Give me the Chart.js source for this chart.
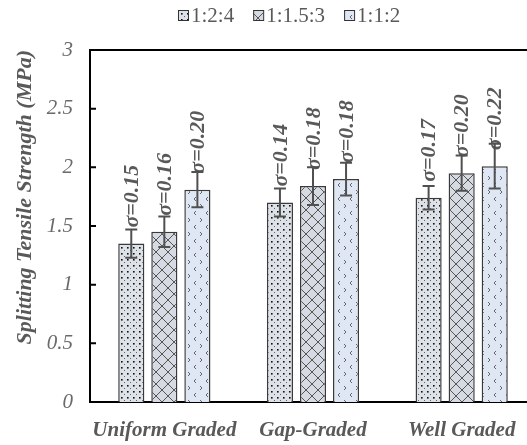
<!DOCTYPE html>
<html>
<head>
<meta charset="utf-8">
<script src="https://cdn.jsdelivr.net/npm/chart.js@4/dist/chart.umd.min.js"></script>
<style>
  html, body { margin: 0; padding: 0; background: #fff; overflow: hidden; }
  #wrap { position: relative; width: 546px; height: 445px; }
</style>
</head>
<body>
<div id="wrap"><canvas id="grafico"></canvas></div>
<script>
// dados
const grupos = ['Uniform Graded', 'Gap-Graded', 'Well Graded'];
const tracos = ['1:2:4', '1:1.5:3', '1:1:2'];
const resistencia124 = [1.35, 1.70, 1.74];
const resistencia1153 = [1.45, 1.84, 1.95];
const resistencia112 = [1.81, 1.90, 2.01];
const erro124 = [0.12, 0.12, 0.10];
const erro1153 = [0.13, 0.16, 0.15];
const erro112 = [0.15, 0.14, 0.19];
const sigma124 = ['0.15', '0.14', '0.17'];
const sigma1153 = ['0.16', '0.18', '0.20'];
const sigma112 = ['0.20', '0.18', '0.22'];
const ticksY = [0, 0.5, 1, 1.5, 2, 2.5, 3];

const FONTE = "'Liberation Serif', 'Times New Roman', serif";
const CINZA = '#595959';

// padrões de preenchimento
function padraoPontos() {
  const c = document.createElement('canvas');
  c.width = 6; c.height = 6;
  const g = c.getContext('2d');
  g.fillStyle = '#dde1e8';
  g.fillRect(0, 0, 6, 6);
  g.fillStyle = '#111';
  g.fillRect(1, 1, 1.6, 1.6);
  g.fillStyle = '#666';
  g.fillRect(4, 4, 1, 1);
  return g.createPattern(c, 'repeat');
}
function padraoLosango() {
  const c = document.createElement('canvas');
  c.width = 12; c.height = 12;
  const g = c.getContext('2d');
  g.fillStyle = '#d6dbe3';
  g.fillRect(0, 0, 12, 12);
  g.strokeStyle = '#555';
  g.lineWidth = 1;
  g.beginPath();
  g.moveTo(0, 0); g.lineTo(12, 12);
  g.moveTo(12, 0); g.lineTo(0, 12);
  g.stroke();
  return g.createPattern(c, 'repeat');
}
function padraoChevron() {
  const c = document.createElement('canvas');
  c.width = 12; c.height = 14;
  const g = c.getContext('2d');
  g.fillStyle = '#dfe7f5';
  g.fillRect(0, 0, 12, 14);
  g.strokeStyle = '#666';
  g.lineWidth = 1;
  g.beginPath();
  g.moveTo(4, 1); g.lineTo(2, 3); g.lineTo(4, 5);
  g.moveTo(8, 8); g.lineTo(10, 10); g.lineTo(8, 12);
  g.stroke();
  return g.createPattern(c, 'repeat');
}

const padroes = [padraoPontos(), padraoLosango(), padraoChevron()];
const valores = [resistencia124, resistencia1153, resistencia112];
const erros = [erro124, erro1153, erro112];
const sigmas = [sigma124, sigma1153, sigma112];

// barras de erro, rótulos σ, moldura e legenda
const extras = {
  id: 'extras',
  afterDatasetsDraw(chart) {
    const ctx = chart.ctx;
    const y = chart.scales.y;
    const area = chart.chartArea;
    ctx.save();
    chart.data.datasets.forEach((ds, i) => {
      const meta = chart.getDatasetMeta(i);
      meta.data.forEach((bar, j) => {
        // rótulo σ
        ctx.save();
        ctx.translate(bar.x, bar.y - 16);
        ctx.rotate(-Math.PI / 2);
        ctx.font = 'italic bold 22px ' + FONTE;
        ctx.fillStyle = CINZA;
        ctx.textAlign = 'left';
        ctx.textBaseline = 'middle';
        ctx.fillText('σ=' + sigmas[i][j], 0, 1);
        ctx.restore();
        // barra de erro
        const v = ds.data[j];
        const e = erros[i][j];
        const yt = y.getPixelForValue(v + e);
        const yb = y.getPixelForValue(v - e);
        ctx.strokeStyle = '#505050';
        ctx.lineWidth = 2;
        ctx.beginPath();
        ctx.moveTo(bar.x, yt); ctx.lineTo(bar.x, yb);
        ctx.moveTo(bar.x - 6, yt); ctx.lineTo(bar.x + 6, yt);
        ctx.moveTo(bar.x - 6, yb); ctx.lineTo(bar.x + 6, yb);
        ctx.stroke();
      });
    });
    // moldura superior e ticks internos
    ctx.strokeStyle = '#000';
    ctx.lineWidth = 2;
    ctx.beginPath();
    ctx.moveTo(area.left - 1, area.top);
    ctx.lineTo(area.right, area.top);
    ctx.moveTo(area.right, area.top);
    ctx.lineTo(area.right, area.bottom);
    ticksY.forEach(t => {
      const py = y.getPixelForValue(t);
      ctx.moveTo(area.left, py);
      ctx.lineTo(area.left + 6, py);
    });
    ctx.stroke();
    // legenda
    ctx.font = '21px ' + FONTE;
    ctx.textBaseline = 'middle';
    ctx.textAlign = 'left';
    let x = 178;
    const ly = 15;
    tracos.forEach((t, i) => {
      ctx.fillStyle = padroes[i];
      ctx.fillRect(x, ly - 5, 10, 10);
      ctx.strokeStyle = '#333';
      ctx.lineWidth = 1;
      ctx.strokeRect(x + 0.5, ly - 4.5, 10, 10);
      ctx.fillStyle = CINZA;
      ctx.fillText(t, x + 13, ly + 1);
      x += 13 + ctx.measureText(t).width + 19;
    });
    ctx.restore();
  }
};

new Chart(document.getElementById('grafico').getContext('2d'), {
  type: 'bar',
  data: {
    labels: grupos,
    datasets: tracos.map((t, i) => ({
      label: t,
      data: valores[i],
      backgroundColor: padroes[i],
      borderColor: '#3a3a3a',
      borderWidth: 1.5,
      barPercentage: 0.79,
      categoryPercentage: 0.667
    }))
  },
  options: {
    responsive: true,
    maintainAspectRatio: false,
    animation: false,
    layout: { padding: { top: 50, right: 10, left: 0, bottom: 2 } },
    plugins: {
      legend: { display: false },
      tooltip: { enabled: false }
    },
    scales: {
      x: {
        afterFit(scale) { scale.height = 41; },
        grid: { display: false, drawTicks: false },
        border: { display: true, color: '#000', width: 2 },
        ticks: {
          font: { family: FONTE, size: 21, style: 'italic', weight: 'bold' },
          color: CINZA,
          padding: 16,
          autoSkip: false,
          maxRotation: 0
        }
      },
      y: {
        min: 0,
        max: 3,
        afterFit(scale) { scale.width = 90; },
        afterBuildTicks(scale) { scale.ticks = ticksY.map(v => ({ value: v })); },
        grid: { display: false, drawTicks: false },
        border: { display: true, color: '#000', width: 2 },
        ticks: {
          font: { family: FONTE, size: 21, style: 'italic' },
          color: '#6a6a6a',
          padding: 17,
          callback: v => String(v)
        },
        title: {
          display: true,
          text: 'Splitting Tensile Strength (MPa)',
          align: 'end',
          font: { family: FONTE, size: 22, style: 'italic', weight: 'bold' },
          color: CINZA,
          padding: { top: 12, bottom: 0 }
        }
      }
    }
  },
  plugins: [extras]
});
</script>
</body>
</html>
